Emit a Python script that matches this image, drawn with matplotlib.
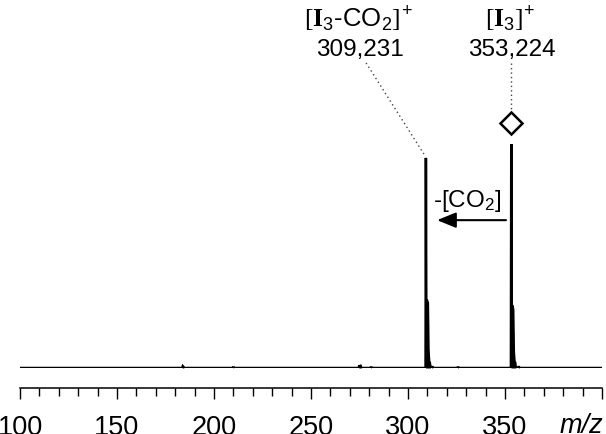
import matplotlib
matplotlib.use("Agg")
import matplotlib.pyplot as plt
from matplotlib.ticker import MultipleLocator, FixedLocator

plt.rcParams['font.family'] = 'Liberation Sans'
plt.rcParams['mathtext.fontset'] = 'custom'
plt.rcParams['mathtext.rm'] = 'Liberation Sans'
plt.rcParams['mathtext.it'] = 'Liberation Sans:italic'
plt.rcParams['mathtext.bf'] = 'Liberation Serif:bold'
plt.rcParams['mathtext.sf'] = 'Liberation Serif'

# spectrum (m/z, relative intensity)
mz = [100, 183.6, 183.9, 184.2, 184.5, 209.8, 210.0, 210.2,
      274.6, 274.9, 275.2, 275.6, 276.0, 280.8, 281.0, 281.2,
      309.05, 309.231, 309.42, 309.9, 310.234, 310.55, 310.9, 311.236, 311.6,
      312.2, 312.5, 312.8, 325.6, 325.8, 326.0,
      353.05, 353.224, 353.42, 353.9, 354.228, 354.55, 354.9, 355.23, 355.6,
      356.8, 357.1, 357.4, 400]
intensity = [0, 0, 0.8, 0.5, 0, 0, 0.6, 0,
             0, 1.2, 0.7, 0.9, 0, 0, 0.6, 0,
             0, 93.8, 30, 30, 29, 8, 3, 2.5, 0,
             0, 0.8, 0, 0, 0.6, 0,
             0, 100, 28, 27.7, 26, 7, 3, 2.5, 0,
             0, 0.8, 0, 0]

major_ticks = [100, 150, 200, 250, 300, 350]
major_labels = ['100', '150', '200', '250', '300', '350']

peak_labels = [r'$\mathsf{[}\mathbf{I}_3$-CO$_2\mathsf{]}^{\!+}$', r'$\mathsf{[}\mathbf{I}_3\mathsf{]}^{\!+}$']
peak_mz_labels = ['309,231', '353,224']

fig = plt.figure(figsize=(6.06, 4.35), dpi=100)
ax = fig.add_axes([20/606, 66/435, 582/606, 224/435])
ax.plot(mz, intensity, color='black', lw=1.8, solid_joinstyle='miter')
ax.fill_between(mz, 0, intensity, color='black', lw=0)
ax.set_xlim(100, 400)
ax.set_ylim(0, 100)

for s in ['left', 'right', 'top']:
    ax.spines[s].set_visible(False)
ax.spines['bottom'].set_position(('outward', 14.4))
ax.spines['bottom'].set_linewidth(1.1)
ax.yaxis.set_visible(False)
ax.xaxis.set_major_locator(FixedLocator(major_ticks + [400]))
ax.set_xticklabels(major_labels + [''])
ax.xaxis.set_minor_locator(MultipleLocator(10))
ax.tick_params(axis='x', which='major', direction='out', length=8, width=1.0,
               labelsize=19.5, pad=11)
ax.tick_params(axis='x', which='minor', direction='out', length=5.8, width=1.0)

fig.text(581/606, 1 - 413/435, 'm/z', style='italic', fontsize=19.5,
         ha='center', va='top')

# annotations
ax.text(274.6, 156, peak_labels[0], fontsize=18.5, ha='center', va='center', clip_on=False)
ax.text(275.3, 142.4, peak_mz_labels[0], fontsize=17.5, ha='center', va='center', clip_on=False)
ax.text(352.6, 156, peak_labels[1], fontsize=18.5, ha='center', va='center', clip_on=False)
ax.text(353.6, 142.4, peak_mz_labels[1], fontsize=17.5, ha='center', va='center', clip_on=False)

ax.plot([278.4, 308.2], [136.2, 95.5], color='#444444', lw=1.0, ls=(0, (1, 2.2)), clip_on=False)
ax.plot([353.224, 353.224], [136.2, 115.6], color='#444444', lw=1.0, ls=(0, (1, 2.2)), clip_on=False)
ax.plot([353.224], [109.4], marker='D', ms=11, mfc='white', mec='black', mew=1.8, clip_on=False)

ax.annotate('', xy=(315, 66), xytext=(350.5, 66),
            arrowprops=dict(arrowstyle='-|>,head_length=1.15,head_width=0.47',
                            mutation_scale=10, lw=1.5, color='black',
                            shrinkA=0, shrinkB=0))
ax.text(330.4, 75, r'-[CO$_2$]', fontsize=17.5, ha='center', va='center')

fig.savefig('out.png', dpi=100)
